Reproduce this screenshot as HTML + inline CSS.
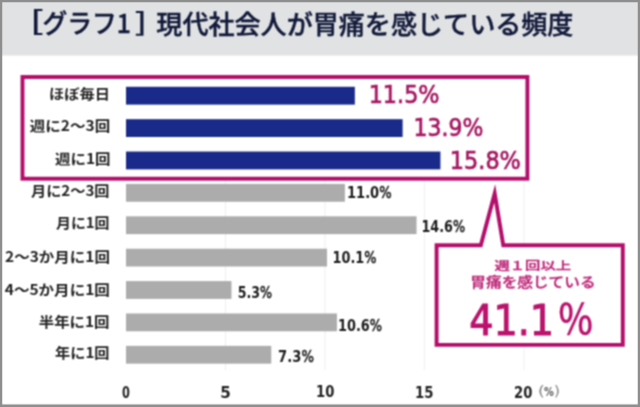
<!DOCTYPE html>
<html lang="ja">
<head>
<meta charset="utf-8">
<title>グラフ1 現代社会人が胃痛を感じている頻度</title>
<style>
html,body{margin:0;padding:0;background:#8e8e8e;}
body{width:640px;height:407px;overflow:hidden;position:relative;}
svg{position:absolute;left:0;top:0;display:block;}
.jp{font-family:"Noto Sans CJK JP",sans-serif;}
.dv{font-family:"DejaVu Sans","Noto Sans CJK JP",sans-serif;}
.dvc{font-family:"DejaVu Sans Condensed","DejaVu Sans","Noto Sans CJK JP",sans-serif;}
.lib{font-family:"Liberation Sans","Noto Sans CJK JP",sans-serif;}
.mono{font-family:"Noto Sans Mono CJK JP","Noto Sans CJK JP",sans-serif;}
text{white-space:pre;}
</style>
</head>
<body>
<svg width="640" height="407" viewBox="0 0 640 407">

<defs><filter id="soft" filterUnits="userSpaceOnUse" x="-10" y="-10" width="660" height="427" color-interpolation-filters="sRGB"><feConvolveMatrix order="3" kernelMatrix="1 2 1 2 4 2 1 2 1" divisor="16" edgeMode="duplicate" preserveAlpha="true"/></filter></defs>
<g filter="url(#soft)">
<rect x="-20" y="-20" width="680" height="447" fill="#8e8e8e"/>
<rect x="2" y="2" width="636" height="402.7" fill="#ffffff"/>
<rect x="2" y="2" width="636" height="53.5" fill="#e1e2e4"/>
<g stroke="#eeeeee" stroke-width="1">
<line x1="225.50" y1="181" x2="225.50" y2="370"/>
<line x1="325.00" y1="181" x2="325.00" y2="370"/>
<line x1="424.50" y1="181" x2="424.50" y2="370"/>
<line x1="524.00" y1="181" x2="524.00" y2="370"/>
</g>
<rect x="126.00" y="86.80" width="228.85" height="17.8" fill="#1a2a8a"/>
<rect x="126.00" y="119.18" width="276.61" height="17.8" fill="#1a2a8a"/>
<rect x="126.00" y="151.56" width="314.42" height="17.8" fill="#1a2a8a"/>
<rect x="126.00" y="183.94" width="218.90" height="17.8" fill="#acacac"/>
<rect x="126.00" y="216.32" width="290.54" height="17.8" fill="#acacac"/>
<rect x="126.00" y="248.70" width="200.99" height="17.8" fill="#acacac"/>
<rect x="126.00" y="281.08" width="105.47" height="17.8" fill="#acacac"/>
<rect x="126.00" y="313.46" width="210.94" height="17.8" fill="#acacac"/>
<rect x="126.00" y="345.84" width="145.27" height="17.8" fill="#acacac"/>
<rect x="22.5" y="77" width="504.90" height="101.70" fill="none" stroke="#b40e6b" stroke-width="3.9"/>
<path d="M436.6 245.2 H480.8 L494.7 193.5 L503.3 245.2 H622.8 V344.9 H436.6 Z" fill="#fff" stroke="#b40e6b" stroke-width="3.9" stroke-linejoin="miter" stroke-miterlimit="10"/>
<text transform="translate(10.84 32.40) scale(1.2663 1)" x="0" y="0" font-size="25.74" class="jp" font-weight="700" fill="#121a3a">［</text>
<text x="42.40" y="33.01" font-size="26.00" textLength="88.44" lengthAdjust="spacingAndGlyphs" class="jp" font-weight="500" fill="#121a3a" stroke="#121a3a" stroke-width="0.4">グラフ1</text>
<text transform="translate(135.06 33.20) scale(1.1284 1)" x="0" y="0" font-size="26.35" class="jp" font-weight="700" fill="#121a3a">］</text>
<text x="156.36" y="33.61" font-size="26.00" textLength="417.04" lengthAdjust="spacingAndGlyphs" class="jp" font-weight="500" fill="#121a3a" stroke="#121a3a" stroke-width="0.4">現代社会人が胃痛を感じている頻度</text>
<text x="49.10" y="99.06" font-size="14.20" textLength="60.82" lengthAdjust="spacingAndGlyphs" class="jp" font-weight="700" fill="#222222">ほぼ毎日</text>
<text x="29.86" y="131.29" font-size="14.20" textLength="80.28" lengthAdjust="spacingAndGlyphs" class="jp" font-weight="700" fill="#222222">週に2～3回</text>
<text x="55.00" y="163.56" font-size="14.20" textLength="55.52" lengthAdjust="spacingAndGlyphs" class="jp" font-weight="700" fill="#222222">週に1回</text>
<text x="31.00" y="195.99" font-size="14.20" textLength="78.52" lengthAdjust="spacingAndGlyphs" class="jp" font-weight="700" fill="#222222">月に2～3回</text>
<text x="56.00" y="228.43" font-size="14.20" textLength="53.52" lengthAdjust="spacingAndGlyphs" class="jp" font-weight="700" fill="#222222">月に1回</text>
<text x="5.12" y="262.21" font-size="14.20" textLength="104.78" lengthAdjust="spacingAndGlyphs" class="jp" font-weight="700" fill="#222222">2～3か月に1回</text>
<text x="4.74" y="294.51" font-size="14.20" textLength="105.16" lengthAdjust="spacingAndGlyphs" class="jp" font-weight="700" fill="#222222">4～5か月に1回</text>
<text x="38.72" y="326.99" font-size="14.20" textLength="70.80" lengthAdjust="spacingAndGlyphs" class="jp" font-weight="700" fill="#222222">半年に1回</text>
<text x="55.12" y="358.44" font-size="14.20" textLength="54.40" lengthAdjust="spacingAndGlyphs" class="jp" font-weight="700" fill="#222222">年に1回</text>
<text x="346.96" y="198.10" font-size="15.50" textLength="44.68" lengthAdjust="spacingAndGlyphs" class="dv" font-weight="700" fill="#1e1e1e">11.0<tspan font-weight="400" stroke="#1e1e1e" stroke-width="0.6">%</tspan></text>
<text x="421.48" y="232.15" font-size="15.50" textLength="43.64" lengthAdjust="spacingAndGlyphs" class="dv" font-weight="700" fill="#1e1e1e">14.6<tspan font-weight="400" stroke="#1e1e1e" stroke-width="0.6">%</tspan></text>
<text x="332.46" y="262.51" font-size="15.50" textLength="44.04" lengthAdjust="spacingAndGlyphs" class="dv" font-weight="700" fill="#1e1e1e">10.1<tspan font-weight="400" stroke="#1e1e1e" stroke-width="0.6">%</tspan></text>
<text x="237.74" y="298.03" font-size="15.50" textLength="34.38" lengthAdjust="spacingAndGlyphs" class="dv" font-weight="700" fill="#1e1e1e">5.3<tspan font-weight="400" stroke="#1e1e1e" stroke-width="0.6">%</tspan></text>
<text x="337.96" y="330.89" font-size="15.50" textLength="44.04" lengthAdjust="spacingAndGlyphs" class="dv" font-weight="700" fill="#1e1e1e">10.6<tspan font-weight="400" stroke="#1e1e1e" stroke-width="0.6">%</tspan></text>
<text x="278.10" y="362.03" font-size="15.50" textLength="35.78" lengthAdjust="spacingAndGlyphs" class="dv" font-weight="700" fill="#1e1e1e">7.3<tspan font-weight="400" stroke="#1e1e1e" stroke-width="0.6">%</tspan></text>
<text x="368.70" y="102.59" font-size="24.50" textLength="70.82" lengthAdjust="spacingAndGlyphs" class="dv" fill="#a61862" stroke="#a61862" stroke-width="0.7">11.5%</text>
<text x="413.58" y="135.60" font-size="24.50" textLength="69.70" lengthAdjust="spacingAndGlyphs" class="dv" fill="#a61862" stroke="#a61862" stroke-width="0.7">13.9%</text>
<text x="449.82" y="168.50" font-size="24.50" textLength="71.08" lengthAdjust="spacingAndGlyphs" class="dv" fill="#a61862" stroke="#a61862" stroke-width="0.7">15.8%</text>
<text x="122.00" y="397.50" font-size="16.50" textLength="7.88" lengthAdjust="spacingAndGlyphs" class="dv" font-weight="700" fill="#222222">0</text>
<text x="220.34" y="397.50" font-size="16.50" textLength="10.56" lengthAdjust="spacingAndGlyphs" class="dv" font-weight="700" fill="#222222">5</text>
<text x="316.10" y="396.96" font-size="16.50" textLength="18.40" lengthAdjust="spacingAndGlyphs" class="dv" font-weight="700" fill="#222222">10</text>
<text x="414.90" y="397.50" font-size="16.50" textLength="18.50" lengthAdjust="spacingAndGlyphs" class="dv" font-weight="700" fill="#222222">15</text>
<text x="514.10" y="397.50" font-size="16.50" textLength="18.40" lengthAdjust="spacingAndGlyphs" class="dv" font-weight="700" fill="#222222">20</text>
<text transform="translate(537.85 395.88) scale(1.3847 1)" x="0" y="0" font-size="13.44" class="dv" fill="#8a8a8a">(</text>
<text transform="translate(544.04 396.27) scale(0.7495 1)" x="0" y="0" font-size="13.02" class="dv" font-weight="700" fill="#555555">%</text>
<text transform="translate(553.68 395.88) scale(1.2127 1)" x="0" y="0" font-size="13.51" class="dv" fill="#8a8a8a">)</text>
<text x="494.50" y="270.03" font-size="10.99" textLength="76.50" lengthAdjust="spacingAndGlyphs" class="jp" font-weight="500" fill="#bd2276" stroke="#bd2276" stroke-width="0.3">週１回以上</text>
<text x="470.34" y="287.37" font-size="13.20" textLength="125.20" lengthAdjust="spacingAndGlyphs" class="jp" font-weight="500" fill="#bd2276" stroke="#bd2276" stroke-width="0.3">胃痛を感じている</text>
<text x="469.15" y="334.56" font-size="42.28" textLength="84.95" lengthAdjust="spacingAndGlyphs" class="dv" font-weight="500" fill="#bb126d" stroke="#bb126d" stroke-width="1.0">41.1</text>
<text x="557.47" y="334.83" font-size="41.53" textLength="36.33" lengthAdjust="spacingAndGlyphs" class="jp" font-weight="500" fill="#bb126d" stroke="#bb126d" stroke-width="0.3">％</text>
</g>
<path fill-rule="evenodd" fill="#8e8e8e" d="M0 0H640V407H0Z M2 2V404.7H638V2Z"/>
</svg>
</body>
</html>
